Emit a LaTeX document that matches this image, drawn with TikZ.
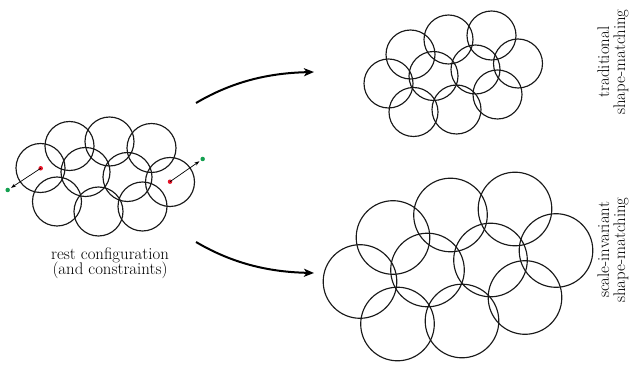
\documentclass[tikz,border=0pt]{standalone}
\usetikzlibrary{arrows.meta}
\definecolor{dotred}{RGB}{230,20,40}
\definecolor{dotgreen}{RGB}{20,160,80}
\begin{document}
\begin{tikzpicture}[x=1pt,y=-1pt,
  ring/.style={draw=black!90,line width=1.15pt},
  bigarrow/.style={line width=2pt,-{Stealth[length=10pt,width=8pt,inset=2.5pt]}},
  smallarrow/.style={line width=0.7pt,-{Stealth[length=5pt,width=3.5pt]},shorten >=1.5pt},
  lbl/.style={font=\fontsize{16.8}{16}\selectfont,inner sep=0pt},
  rdot/.style={circle,fill=dotred,inner sep=0pt,minimum size=4.5pt},
  gdot/.style={circle,fill=dotgreen,inner sep=0pt,minimum size=4.5pt}]
\useasboundingbox (0,0) rectangle (634,371);
% rest configuration
\foreach \x/\y in {40.5/168,69.5/146,109.5/141.5,151.5/148,85.5/172,127.5/177,170/182,57/201.5,98.5/211.5,142.5/206.5}
  \draw[ring] (\x,\y) circle[radius=24.5];
% traditional
\foreach \x/\y in {410.5/54.5,448.5/39.5,491.5/35.5,518/63.5,433.5/76,475.5/69.5,388.5/83.5,413.5/112,456.5/109.5,497.5/94.5}
  \draw[ring] (\x,\y) circle[radius=24.5];
% scale-invariant
\foreach \x/\y in {360/281.5,393/237.5,450.5/215,515/209,556/250.5,427.5/270,490.5/260,397.5/324,462/321,525/297.5}
  \draw[ring] (\x,\y) circle[radius=36.8];
% constraint arrows
\node[rdot] (r1) at (40.7,168.3) {};
\node[gdot] (g1) at (7.7,190) {};
\node[rdot] (r2) at (170,181.7) {};
\node[gdot] (g2) at (202.7,159) {};
\draw[smallarrow] (r1.center) -- (g1);
\draw[smallarrow] (r2.center) -- (g2);
% labels
\node[lbl,anchor=base] (rest1) at (110,259) {rest configuration};
\node[lbl,anchor=base] (rest2) at (110,275) {(and constraints)};
\node[lbl,rotate=90,align=center] (trad) at (613,62) {traditional\\shape-matching};
\node[lbl,rotate=90,align=center] (scinv) at (613,250) {scale-invariant\\shape-matching};
% big arrows
\coordinate (a1s) at (196,103);
\coordinate (a1e) at (314,72);
\coordinate (a2s) at (196,242);
\coordinate (a2e) at (314,273);
\draw[bigarrow] (a1s) .. controls (235,80) and (272,73) .. (a1e);
\draw[bigarrow] (a2s) .. controls (235,265) and (272,272) .. (a2e);
\end{tikzpicture}
\end{document}
